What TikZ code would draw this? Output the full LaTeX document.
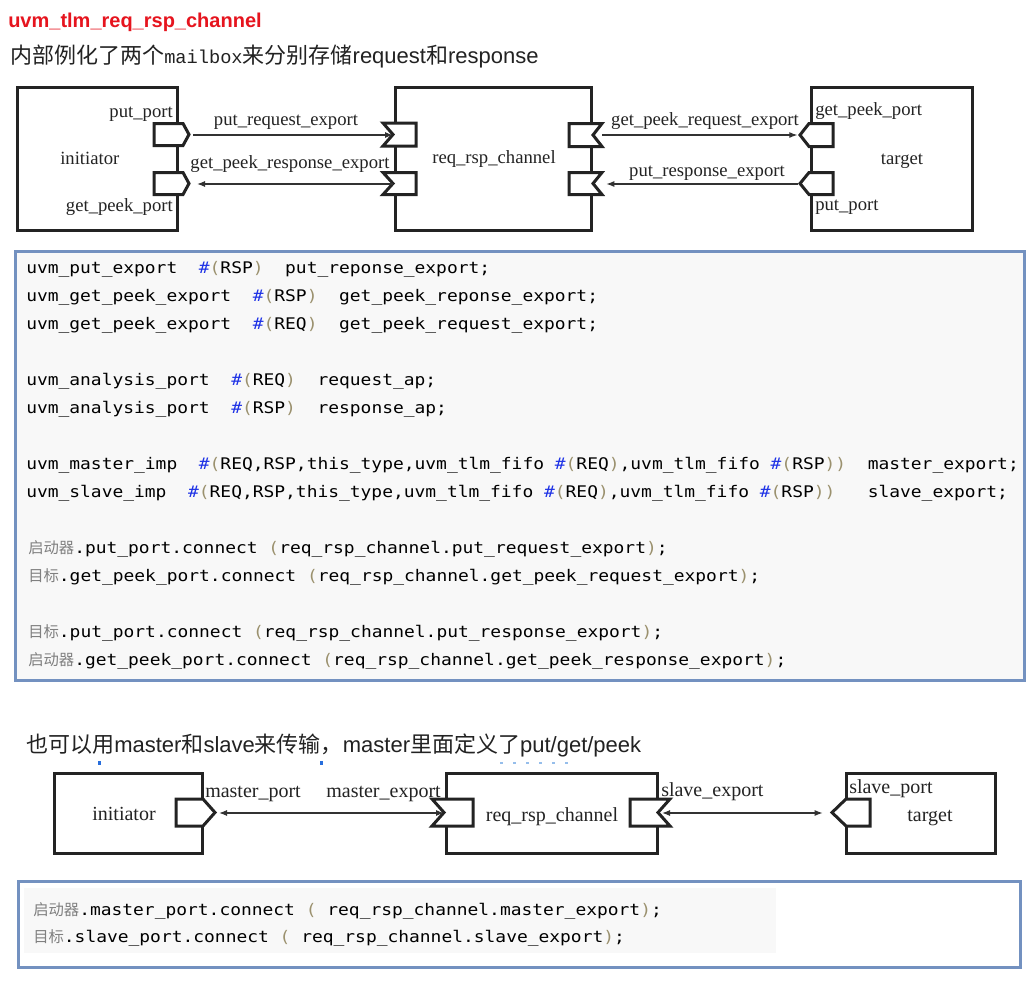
\documentclass[tikz,border=0pt]{standalone}
\usepackage{fontspec}
\setmainfont{Liberation Sans}
\newfontfamily\cjkf{Noto Sans CJK SC}
\newfontfamily\tmsf{Liberation Serif}
\newfontfamily\codef{DejaVu Sans Mono}[FakeStretch=1.12]
\newfontfamily\courf{Liberation Mono}
\usetikzlibrary{arrows.meta,fit}

\definecolor{titlered}{RGB}{230,20,30}
\definecolor{txt}{RGB}{34,34,34}
\definecolor{dgm}{RGB}{35,35,35}
\definecolor{linec}{RGB}{50,50,50}
\definecolor{frame}{RGB}{115,145,192}
\definecolor{codebg}{RGB}{248,248,248}
\definecolor{hashc}{RGB}{30,50,230}
\definecolor{parc}{RGB}{155,145,110}
\definecolor{zhc}{RGB}{128,128,128}
\definecolor{artblue}{RGB}{40,110,220}
\definecolor{artlight}{RGB}{150,190,235}

\newcommand\hs{\textcolor{hashc}{\#}}
\newcommand\lp{\textcolor{parc}{(}}
\newcommand\rp{\textcolor{parc}{)}}
\newcommand\zh[1]{{\cjkf\fontsize{11.5}{12}\selectfont\color{zhc}#1}}
% outward port: left x, right x, tip x, y centre, half height
\newcommand\oport[5]{\filldraw[portst] (#1,#4-#5) -- (#2,#4-#5) -- (#3,#4) -- (#2,#4+#5) -- (#1,#4+#5) -- cycle;}
% export: outer x, inner x, vertex x, y centre, half height
\newcommand\eport[5]{\filldraw[portst] (#1,#4-#5) -- (#2,#4-#5) -- (#2,#4+#5) -- (#1,#4+#5) -- (#3,#4) -- cycle;}

\tikzset{
  box/.style={draw=dgm, line width=2.25pt, inner sep=0pt, fill=white},
  portst/.style={draw=dgm, line width=2.25pt, fill=white, line join=miter},
  conn/.style={draw=linec, line width=0.9pt, -{Latex[length=6pt,width=4.5pt]}},
  dconn/.style={draw=linec, line width=0.9pt, {Latex[length=6pt,width=4.5pt]}-{Latex[length=6pt,width=4.5pt]}},
  lbl/.style={font=\tmsf\fontsize{14}{16}\selectfont, text=dgm, inner sep=0pt},
  lblb/.style={font=\tmsf\fontsize{15}{17}\selectfont, text=dgm, inner sep=0pt},
  codel/.style={font=\codef\fontsize{12}{14}\selectfont, text=black, inner sep=0pt, anchor=base west},
  head/.style={font=\fontsize{16.5}{20}\selectfont, text=txt, inner sep=0pt, anchor=base west},
  frm/.style={draw=frame, line width=2.25pt, inner sep=0pt},
}

\begin{document}
\begin{tikzpicture}[x=0.75pt,y=-0.75pt]
\useasboundingbox (0,0) rectangle (1032,989);
\fill[white] (0,0) rectangle (1032,989);

% headings
\node[anchor=base west, inner sep=0pt, text=titlered, font=\bfseries\fontsize{15}{18}\selectfont] (title) at (8,27) {uvm\_tlm\_req\_rsp\_channel};
\node[head] (sub1) at (10,63) {{\cjkf 内部例化了两个}{\courf\fontsize{14}{16}\selectfont mailbox}{\cjkf 来分别存储}request{\cjkf 和}response};

% ---------- top diagram ----------
\node[box, fit={(17,87) (177,230)}] (A) {};
\node[box, fit={(395,87) (591,230)}] (B) {};
\node[box, fit={(811,87) (972,230)}] (C) {};

\oport{154}{183}{189}{134.5}{11}
\oport{154}{183}{189}{183.5}{11}
\eport{383}{416}{393}{134.5}{11.5}
\eport{383}{416}{393}{183.5}{11}
\eport{602}{569}{593}{135}{11.5}
\eport{602}{569}{593}{183.5}{11}
\oport{833}{809}{800}{135}{11.5}
\oport{833}{809}{800}{183.5}{11}

\coordinate (A1) at (189,135);
\coordinate (A2) at (189,184);
\coordinate (B1w) at (393,135);
\coordinate (B2w) at (393,184);
\coordinate (B1e) at (593,135);
\coordinate (B2e) at (593,184);
\coordinate (C1) at (800,135);
\coordinate (C2) at (800,184);

\draw[conn, shorten <=3pt] (A1) -- (B1w);
\draw[conn, shorten >=6pt] (B2w) -- (A2);
\draw[conn, shorten <=7pt, shorten >=2pt] (B1e) -- (C1);
\draw[conn, shorten <=1.5pt, shorten >=10pt] (C2) -- (B2e);

\node[lbl, anchor=base east] (lA1) at (173,117) {put\_port};
\node[lbl, anchor=base west] (lA) at (60,164) {initiator};
\node[lbl, anchor=base east] (lA2) at (173,211) {get\_peek\_port};
\node[lbl, anchor=base] (lx1) at (286,125) {put\_request\_export};
\node[lbl, anchor=base] (lx2) at (290,168) {get\_peek\_response\_export};
\node[lbl, anchor=base] (lB) at (494,163) {req\_rsp\_channel};
\node[lbl, anchor=base] (lx3) at (705,125) {get\_peek\_request\_export};
\node[lbl, anchor=base] (lx4) at (707,176) {put\_response\_export};
\node[lbl, anchor=base west] (lC1) at (815,115) {get\_peek\_port};
\node[lbl, anchor=base] (lC) at (902,164) {target};
\node[lbl, anchor=base west] (lC2) at (815,210) {put\_port};

% ---------- code block 1 ----------
\node[frm, fill=codebg, fit={(15,251) (1024,680)}] (blk1) {};
\node[codel] (c1) at (26,273) {uvm\_put\_export~~\hs\lp RSP\rp~~put\_reponse\_export;};
\node[codel] (c2) at (26,301) {uvm\_get\_peek\_export~~\hs\lp RSP\rp~~get\_peek\_reponse\_export;};
\node[codel] (c3) at (26,329) {uvm\_get\_peek\_export~~\hs\lp REQ\rp~~get\_peek\_request\_export;};
\node[codel] (c4) at (26,385) {uvm\_analysis\_port~~\hs\lp REQ\rp~~request\_ap;};
\node[codel] (c5) at (26,413) {uvm\_analysis\_port~~\hs\lp RSP\rp~~response\_ap;};
\node[codel] (c6) at (26,469) {uvm\_master\_imp~~\hs\lp REQ,RSP,this\_type,uvm\_tlm\_fifo~\hs\lp REQ\rp,uvm\_tlm\_fifo~\hs\lp RSP\rp\rp~~master\_export;};
\node[codel] (c7) at (26,497) {uvm\_slave\_imp~~\hs\lp REQ,RSP,this\_type,uvm\_tlm\_fifo~\hs\lp REQ\rp,uvm\_tlm\_fifo~\hs\lp RSP\rp\rp~~~slave\_export;};
\node[codel] (c8) at (28,553) {\zh{启动器}.put\_port.connect~\lp req\_rsp\_channel.put\_request\_export\rp;};
\node[codel] (c9) at (28,581) {\zh{目标}.get\_peek\_port.connect~\lp req\_rsp\_channel.get\_peek\_request\_export\rp;};
\node[codel] (c10) at (28,637) {\zh{目标}.put\_port.connect~\lp req\_rsp\_channel.put\_response\_export\rp;};
\node[codel] (c11) at (28,665) {\zh{启动器}.get\_peek\_port.connect~\lp req\_rsp\_channel.get\_peek\_response\_export\rp;};

% ---------- second heading ----------
\node[head] (sub2) at (26,752) {{\cjkf 也可以用}master{\cjkf 和}slave{\cjkf 来传输，}master{\cjkf 里面定义了}put/get/peek};
\fill[artblue] (98,761) rectangle (101,765);
\fill[artblue] (320,761) rectangle (323,765);
\foreach \k in {0,...,5} \fill[artlight] (500+\k*13,762) rectangle (503+\k*13,764);

% ---------- bottom diagram ----------
\node[box, fit={(54,773) (202,853)}] (D) {};
\node[box, fit={(446,773) (657,853)}] (E) {};
\node[box, fit={(846,773) (995,853)}] (F) {};

\oport{176}{203}{215}{812.5}{13.5}
\eport{432}{473}{444}{812.5}{13.5}
\eport{670}{630}{658}{812.5}{13.5}
\oport{870}{846}{832}{812.5}{13.5}

\coordinate (D1) at (215,813);
\coordinate (E1w) at (444,813);
\coordinate (E1e) at (658,813);
\coordinate (F1) at (832,813);
\draw[dconn, shorten <=3pt] (D1) -- (E1w);
\draw[dconn, shorten <=3pt, shorten >=7pt] (E1e) -- (F1);

\node[lblb, anchor=base] (lD) at (124,820) {initiator};
\node[lblb, anchor=base west] (lD1) at (205,797) {master\_port};
\node[lblb, anchor=base east] (lE1) at (441,797) {master\_export};
\node[lblb, anchor=base] (lE) at (552,821) {req\_rsp\_channel};
\node[lblb, anchor=base west] (lE2) at (661,796) {slave\_export};
\node[lblb, anchor=base west] (lF1) at (849,793) {slave\_port};
\node[lblb, anchor=base] (lF) at (930,821) {target};

% ---------- code block 2 ----------
\node[frm, fill=white, fit={(18,881) (1020,967)}] (blk2) {};
\node[fill=codebg, inner sep=0pt, fit={(24,888) (776,953)}] (blk2bg) {};
\node[codel] (d1) at (33,915) {\zh{启动器}.master\_port.connect~\lp~req\_rsp\_channel.master\_export\rp;};
\node[codel] (d2) at (33,942) {\zh{目标}.slave\_port.connect~\lp~req\_rsp\_channel.slave\_export\rp;};
\end{tikzpicture}
\end{document}
